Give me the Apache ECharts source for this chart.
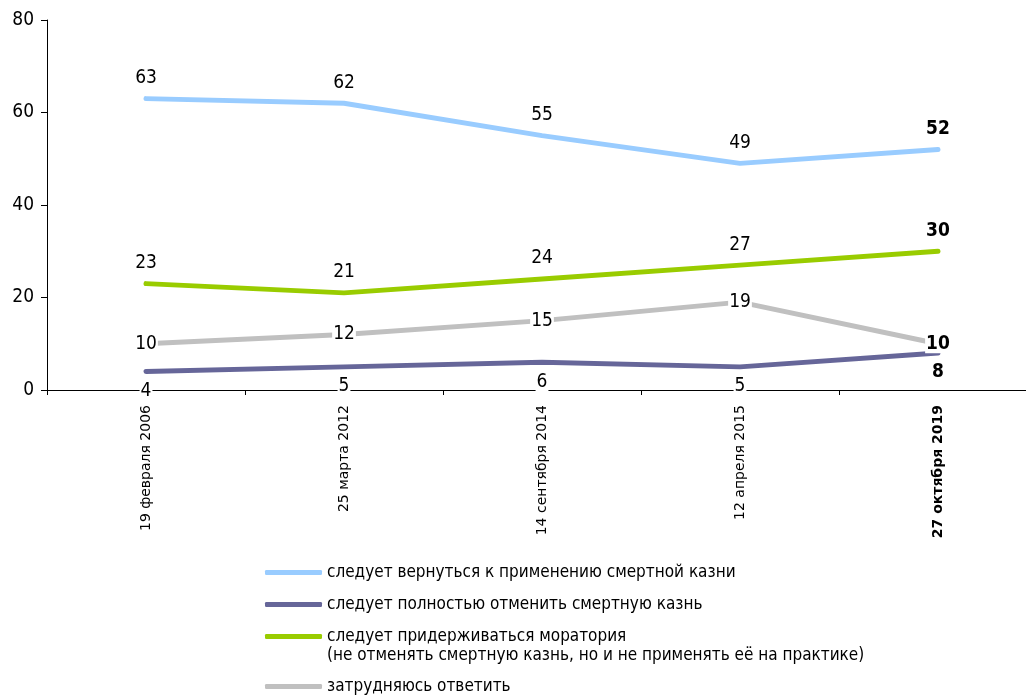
<!DOCTYPE html>
<html><head><meta charset="utf-8">
<script src="https://cdn.jsdelivr.net/npm/echarts@6/dist/echarts.min.js"></script>
<style>html,body{margin:0;padding:0;background:#fff}#c{width:1026px;height:697px}</style>
</head><body><div id="c"></div>
<script>
var categories = ['19 февраля 2006','25 марта 2012','14 сентября 2014','12 апреля 2015','27 октября 2019'];
var names = ['следует вернуться к применению смертной казни','следует полностью отменить смертную казнь','следует придерживаться моратория','затрудняюсь ответить'];
var note3 = '(не отменять смертную казнь, но и не применять её на практике)';
var valReturn = [63,62,55,49,52];
var valAbolish = [4,5,6,5,8];
var valMoratorium = [23,21,24,27,30];
var valHard = [10,12,15,19,10];
var yTicks = [0,20,40,60,80];

var NF = '"Liberation Sans Narrow","DejaVu Sans Condensed","Roboto Condensed",sans-serif';
function mk(vals){
  return vals.map(function(v,i){
    var last = i === vals.length-1;
    return {value:v, label:{fontWeight: last?'bold':'normal'}};
  });
}
function series(name, vals, color, pos, dist, bg){
  return {
    name:name, type:'line', data:mk(vals), symbol:'circle', symbolSize:0, showSymbol:true,
    lineStyle:{color:color,width:5,cap:'round'}, itemStyle:{color:color},
    label:{show:true,position:pos,distance:dist,fontFamily:NF,fontSize:19,color:'#000',
      backgroundColor: bg?'#fff':'transparent', padding: bg?[0,1]:0},
    emphasis:{disabled:true}, animation:false
  };
}
var chart = echarts.init(document.getElementById('c'));
chart.setOption({
  animation:false,
  grid:{left:47,top:20,height:370,width:990,outerBoundsMode:'none',containLabel:false},
  xAxis:{type:'category',data:categories.map(function(c,i){return i===categories.length-1?{value:c,textStyle:{fontWeight:'bold'}}:c;}),
    boundaryGap:true,
    axisLine:{lineStyle:{color:'#000',width:1}},
    axisTick:{show:true,length:5,lineStyle:{color:'#000'}},
    axisLabel:{rotate:90,margin:15,fontFamily:'"DejaVu Sans",sans-serif',fontSize:14,color:'#000'}},
  yAxis:{type:'value',min:0,max:80,interval:20,
    axisLine:{show:true,lineStyle:{color:'#000'}},
    axisTick:{show:true,length:6,lineStyle:{color:'#000'}},
    splitLine:{show:false},
    axisLabel:{margin:13,fontFamily:NF,fontSize:19,color:'#000',
      formatter:function(v){return yTicks.indexOf(v)>=0?String(v):'';}}},
  legend:[{
    orient:'vertical',left:260,top:559,itemWidth:57,itemHeight:5,itemGap:15,icon:'roundRect',
    textStyle:{fontFamily:NF,fontSize:17,color:'#000'},
    data:[names[0],names[1],names[2]],
    selectedMode:false
  },{
    orient:'vertical',left:260,top:673,itemWidth:57,itemHeight:5,icon:'roundRect',
    textStyle:{fontFamily:NF,fontSize:17,color:'#000'},
    data:[names[3]],selectedMode:false
  }],
  graphic:[{type:'text',left:327,top:647,style:{text:note3,font:'17px '+NF,fill:'#000'}}],
  series:[
    series(names[0],valReturn,'#99CCFF','top',11,false),
    series(names[1],valAbolish,'#666699','bottom',10,true),
    series(names[2],valMoratorium,'#99CC00','top',11,false),
    series(names[3],valHard,'#C0C0C0','inside',0,true)
  ]
});
</script></body></html>
